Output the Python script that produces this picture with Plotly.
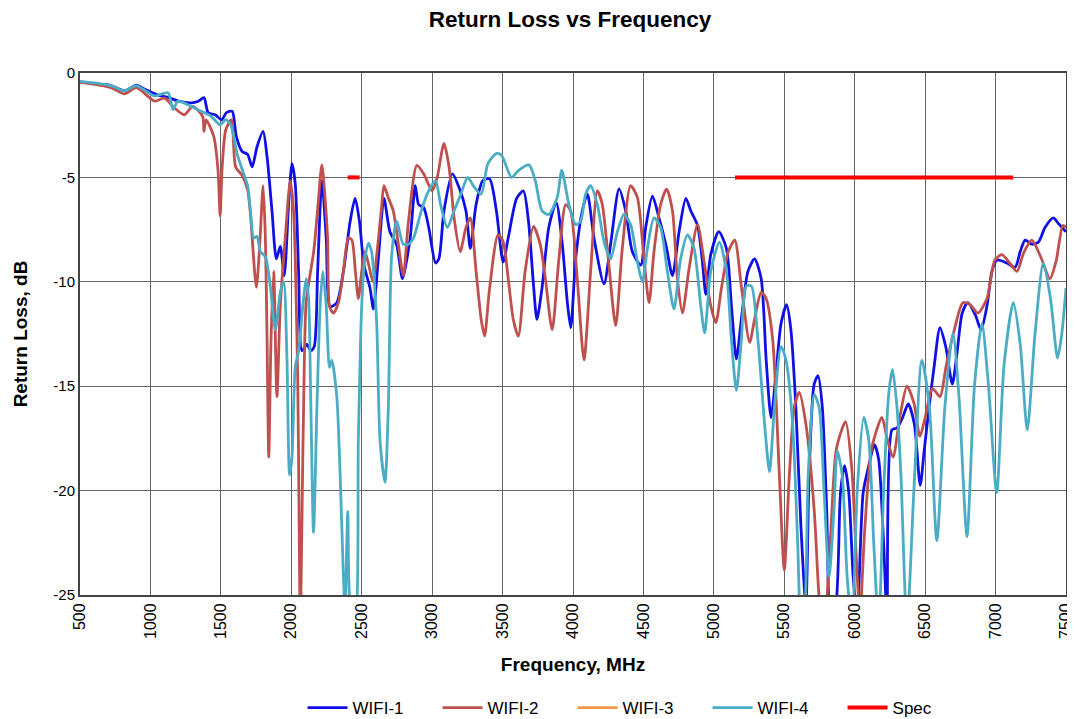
import plotly.graph_objects as go

# ---------------- data ----------------
wifi1_f = [500, 630, 720, 815, 900, 960, 1060, 1130, 1200, 1290, 1340, 1380, 1410, 1460, 1505, 1540, 1580,
           1610, 1650, 1690, 1722, 1757, 1800, 1828, 1863, 1894, 1922, 1950, 1981, 2005, 2028, 2052, 2076,
           2111, 2139, 2163, 2187, 2217, 2248, 2276, 2323, 2370, 2418, 2453, 2484, 2516, 2559, 2583, 2618,
           2658, 2700, 2747, 2790, 2844, 2880, 2904, 2940, 2976, 3024, 3048, 3084, 3144, 3192, 3240, 3271,
           3312, 3360, 3408, 3456, 3504, 3540, 3600, 3648, 3684, 3720, 3744, 3780, 3828, 3881, 3924, 3960,
           3984, 4019, 4066, 4102, 4149, 4220, 4267, 4327, 4374, 4421, 4481, 4516, 4564, 4611, 4659, 4706,
           4753, 4801, 4836, 4884, 4919, 4943, 4978, 5035, 5089, 5125, 5160, 5195, 5242, 5289, 5336, 5371,
           5406, 5441, 5477, 5517, 5547, 5582, 5618, 5653, 5676, 5712, 5740, 5770, 5801, 5829, 5865, 5899,
           5928, 5958, 5989, 6017, 6060, 6100, 6140, 6170, 6205, 6229, 6264, 6300, 6340, 6380, 6423, 6465,
           6493, 6528, 6563, 6605, 6646, 6693, 6728, 6763, 6803, 6857, 6897, 6939, 6974, 7010, 7080, 7139,
           7175, 7210, 7257, 7304, 7351, 7410, 7445, 7500]
wifi1_db = [-0.42, -0.53, -0.6, -0.85, -0.58, -0.78, -1.07, -1.18, -1.35, -1.43, -1.35, -1.18, -1.9, -2.0, -2.24, -1.9, -1.83,
            -3.05, -3.75, -3.9, -4.5, -3.53, -2.8, -4.02, -6.6, -8.9, -8.3, -9.7, -6.3, -4.34, -5.3, -9.5, -13.3,
            -13.0, -13.3, -13.1, -9.5, -5.15, -7.9, -11.2, -11.0, -9.5, -7.1, -6.0, -7.1, -9.2, -10.3, -11.3, -8.9,
            -6.0, -7.6, -8.2, -9.85, -7.9, -5.4, -6.3, -6.45, -7.4, -9.1, -8.9, -6.6, -4.83, -5.5, -6.6, -8.4,
            -6.3, -5.15, -5.07, -6.6, -9.05, -7.9, -6.0, -5.65, -7.1, -10.2, -11.8, -10.3, -7.4, -6.2, -8.2, -11.0,
            -12.2, -8.9, -6.6, -5.8, -7.9, -10.1, -8.2, -5.55, -6.6, -8.55, -9.2, -7.4, -5.9, -6.95, -8.2, -9.7,
            -7.6, -6.0, -6.6, -7.3, -9.05, -10.6, -8.7, -7.6, -8.4, -11.15, -13.7, -11.8, -9.5, -8.9, -9.85, -13.7,
            -16.5, -14.4, -12.0, -11.1, -12.3, -16.0, -21.7, -25.5, -19.3, -14.9, -14.5, -16.0, -20.9, -26.0, -25.5, -20.1,
            -18.8, -20.1, -24.1, -26.0, -20.1, -18.8, -17.8, -18.5, -22.5, -26.0, -17.1, -17.0, -16.5, -15.85, -16.8, -19.75,
            -18.1, -16.0, -14.1, -12.2, -13.1, -14.9, -13.3, -11.5, -11.0, -11.6, -12.3, -11.15, -9.5, -8.96, -9.1, -9.3,
            -8.55, -8.0, -8.2, -8.1, -7.4, -6.94, -7.2, -7.6]

wifi2_f = [500, 720, 815, 900, 1030, 1100, 1170, 1240, 1300, 1370, 1380, 1395, 1450, 1480, 1495, 1508, 1535,
           1575, 1605, 1650, 1690, 1710, 1752, 1776, 1800, 1816, 1828, 1840, 1856, 1875, 1898, 1922, 1957,
           1993, 2016, 2045, 2064, 2085, 2105, 2130, 2160, 2190, 2217, 2240, 2258, 2272, 2300, 2335, 2370,
           2405, 2430, 2455, 2476, 2500, 2523, 2550, 2580, 2610, 2640, 2658, 2690, 2724, 2760, 2795, 2832,
           2892, 2940, 3000, 3036, 3084, 3120, 3156, 3199, 3240, 3271, 3312, 3348, 3372, 3408, 3468, 3504,
           3540, 3576, 3612, 3660, 3720, 3768, 3804, 3852, 3900, 3948, 3983, 4030, 4078, 4125, 4173, 4208,
           4255, 4303, 4350, 4409, 4457, 4504, 4540, 4575, 4622, 4665, 4706, 4741, 4777, 4824, 4884, 4931,
           4978, 5014, 5054, 5100, 5148, 5195, 5254, 5289, 5336, 5371, 5418, 5465, 5500, 5536, 5571, 5606,
           5653, 5712, 5747, 5780, 5830, 5870, 5935, 5980, 6010, 6037, 6070, 6120, 6193, 6230, 6272, 6320,
           6371, 6420, 6463, 6500, 6552, 6605, 6650, 6700, 6768, 6820, 6875, 6939, 6995, 7045, 7100, 7152,
           7200, 7258, 7320, 7386, 7430, 7478, 7500]
wifi2_db = [-0.45, -0.7, -1.0, -0.7, -1.35, -1.2, -1.67, -2.0, -1.6, -2.07, -2.8, -2.24, -3.05, -4.67, -6.85, -4.67, -2.72,
            -2.24, -4.5, -4.9, -5.6, -6.77, -10.26, -8.23, -5.4, -7.9, -12.8, -18.4, -12.8, -9.5, -15.5, -11.15, -7.9,
            -5.15, -6.6, -14.4, -26.0, -17.0, -11.0, -9.8, -8.5, -6.3, -4.4, -6.0, -7.9, -11.2, -11.5, -11.0, -9.5,
            -7.9, -8.0, -9.5, -10.8, -9.5, -8.55, -9.2, -10.0, -8.5, -6.5, -5.4, -6.0, -6.6, -8.2, -9.7, -7.1,
            -4.42, -4.83, -5.64, -5.0, -3.37, -4.5, -6.94, -8.55, -7.4, -6.94, -9.5, -11.8, -12.6, -10.3, -7.75, -8.07,
            -9.85, -11.8, -12.6, -9.5, -7.35, -8.23, -9.85, -12.3, -8.9, -6.3, -6.6, -9.85, -13.74, -9.5, -5.64, -6.3,
            -9.2, -12.1, -8.4, -5.4, -5.96, -8.9, -11.0, -8.55, -6.3, -5.56, -6.6, -9.85, -11.5, -9.37, -7.26, -9.04,
            -11.15, -11.96, -10.3, -8.6, -8.0, -10.2, -12.9, -11.8, -10.5, -10.8, -12.8, -19.25, -23.8, -19.25, -16.0, -15.3,
            -16.8, -20.9, -25.1, -27.0, -22.0, -18.0, -16.7, -19.0, -23.0, -26.0, -22.0, -18.0, -16.5, -17.5, -18.4, -16.5,
            -15.0, -15.8, -17.4, -16.5, -15.1, -15.5, -14.0, -12.5, -11.0, -11.1, -11.5, -10.8, -8.96, -8.7, -9.1, -9.5,
            -8.6, -8.0, -8.8, -9.85, -9.0, -7.3, -7.4]

# WIFI-3 has no visible trace in the reference (only its legend entry)
wifi3_f = [None]
wifi3_db = [None]

wifi4_f = [500, 720, 815, 900, 1030, 1125, 1160, 1195, 1290, 1360, 1430, 1495, 1535, 1570, 1615, 1650, 1690,
           1710, 1733, 1757, 1780, 1816, 1851, 1887, 1922, 1946, 1969, 1988, 2005, 2028, 2052, 2087, 2106,
           2123, 2139, 2158, 2182, 2205, 2224, 2248, 2271, 2288, 2323, 2347, 2370, 2382, 2401, 2422, 2453,
           2476, 2500, 2523, 2547, 2570, 2606, 2630, 2665, 2689, 2713, 2748, 2795, 2832, 2868, 2916, 2964,
           3024, 3060, 3108, 3156, 3204, 3252, 3300, 3348, 3396, 3456, 3492, 3564, 3612, 3688, 3732, 3780,
           3828, 3888, 3920, 3971, 4019, 4054, 4090, 4125, 4173, 4220, 4267, 4315, 4362, 4409, 4457, 4492,
           4528, 4575, 4622, 4670, 4717, 4764, 4812, 4859, 4907, 4935, 4978, 5040, 5089, 5125, 5160, 5195,
           5230, 5266, 5313, 5360, 5395, 5430, 5477, 5512, 5559, 5595, 5620, 5645, 5670, 5712, 5747, 5783,
           5818, 5853, 5876, 5911, 5946, 5982, 6017, 6064, 6100, 6135, 6170, 6205, 6241, 6268, 6300, 6328,
           6371, 6420, 6477, 6530, 6583, 6640, 6697, 6740, 6797, 6850, 6903, 6950, 7008, 7060, 7126, 7175,
           7225, 7280, 7339, 7390, 7440, 7470, 7500]
wifi4_db = [-0.4, -0.6, -0.85, -0.6, -1.1, -0.94, -1.75, -1.35, -1.6, -1.83, -2.07, -2.48, -2.24, -2.48, -3.86, -4.6, -5.4,
            -6.6, -7.9, -7.83, -8.55, -8.8, -10.2, -12.3, -10.5, -10.0, -13.6, -19.25, -18.4, -14.1, -13.3, -10.8, -9.85,
            -10.8, -16.0, -22.0, -16.0, -11.15, -9.5, -11.15, -14.1, -13.75, -15.5, -19.25, -24.1, -25.7, -21.0, -25.7, -26.0,
            -17.6, -11.15, -8.9, -8.15, -8.55, -11.96, -17.6, -19.6, -16.0, -8.7, -7.1, -8.2, -8.2, -7.9, -6.77, -5.8,
            -5.15, -6.3, -7.4, -6.6, -5.8, -5.0, -5.48, -5.8, -4.34, -3.86, -3.94, -5.0, -4.67, -4.4, -5.15, -6.6,
            -6.77, -5.96, -4.67, -6.3, -7.26, -7.1, -5.8, -5.4, -6.3, -8.07, -8.9, -7.6, -6.77, -7.26, -9.04, -10.0,
            -8.4, -6.94, -7.4, -9.5, -11.3, -8.9, -7.75, -8.4, -11.15, -12.45, -9.5, -8.1, -9.5, -12.8, -15.2, -12.8,
            -10.2, -10.2, -12.8, -16.8, -19.1, -16.0, -13.1, -13.75, -16.8, -22.5, -27.0, -26.0, -19.25, -15.4, -16.0, -20.1,
            -24.1, -20.9, -18.1, -19.25, -24.1, -26.5, -20.1, -16.5, -17.6, -22.5, -26.5, -20.1, -15.4, -14.2, -16.0, -19.25,
            -26.5, -20.0, -13.75, -16.0, -22.4, -16.0, -12.45, -15.5, -22.2, -15.0, -12.0, -15.0, -20.1, -14.0, -11.0, -13.0,
            -17.1, -12.5, -9.1, -10.8, -13.65, -12.5, -10.3]

spec_f = [[2400, 2485], [5150, 7125]]
spec_db = [[-5, -5], [-5, -5]]

x_ticks = list(range(500, 7501, 500))
y_ticks = [0, -5, -10, -15, -20, -25]

# ---------------- figure ----------------
# the page has an 8px body margin, so the figure is drawn 8px smaller and offset
FONT = "Liberation Sans, Arial, sans-serif"
fig = go.Figure()

series = [
    ("WIFI-1", wifi1_f, wifi1_db, "#1010E6"),
    ("WIFI-2", wifi2_f, wifi2_db, "#C0504D"),
    ("WIFI-3", wifi3_f, wifi3_db, "#F79646"),
    ("WIFI-4", wifi4_f, wifi4_db, "#4BACC6"),
]
for name, f, db, col in series:
    fig.add_trace(go.Scatter(
        x=f, y=db, mode="lines", name=name,
        line=dict(color=col, width=2.8, shape="spline", smoothing=0.7),
    ))

for i, (sf, sd) in enumerate(zip(spec_f, spec_db)):
    fig.add_trace(go.Scatter(
        x=sf, y=sd, mode="lines", name="Spec", showlegend=(i == 0), legendgroup="spec",
        line=dict(color="#FF0000", width=4),
    ))

fig.update_layout(
    width=1067, height=711,
    paper_bgcolor="white", plot_bgcolor="white",
    margin=dict(l=72, r=9, t=65, b=124, autoexpand=False),
    font=dict(family=FONT, size=14, color="#000000"),
    title=dict(text="<b>Return Loss vs Frequency</b>", x=0.497, xanchor="center", xref="paper",
               y=0.985, yanchor="middle", yref="container", font=dict(size=22.5, family=FONT)),
    showlegend=True,
    legend=dict(orientation="h", x=0.568, xanchor="center", y=-0.2165, yanchor="middle",
                font=dict(size=17, family=FONT), itemwidth=40, tracegroupgap=0,
                entrywidth=80, entrywidthmode="pixels"),
)
fig.update_xaxes(
    range=[500, 7500], tickmode="array", tickvals=x_ticks, ticktext=[str(v) for v in x_ticks],
    tickangle=-90, tickfont=dict(size=16), automargin=False,
    showgrid=True, gridcolor="#666666", gridwidth=1,
    showline=True, linecolor="#444444", linewidth=2, mirror=True,
    ticks="", zeroline=False,
    title=dict(text="<b>Frequency, MHz</b>", font=dict(size=19), standoff=20),
)
fig.update_yaxes(
    range=[-25, 0], tickmode="array", tickvals=y_ticks, ticktext=[str(v) for v in y_ticks],
    tickfont=dict(size=15), automargin=False,
    showgrid=True, gridcolor="#666666", gridwidth=1,
    showline=True, linecolor="#444444", linewidth=2, mirror=True,
    ticks="", zeroline=False,
    title=dict(text="<b>Return Loss, dB</b>", font=dict(size=19), standoff=21),
)

fig.write_html("out.html")
